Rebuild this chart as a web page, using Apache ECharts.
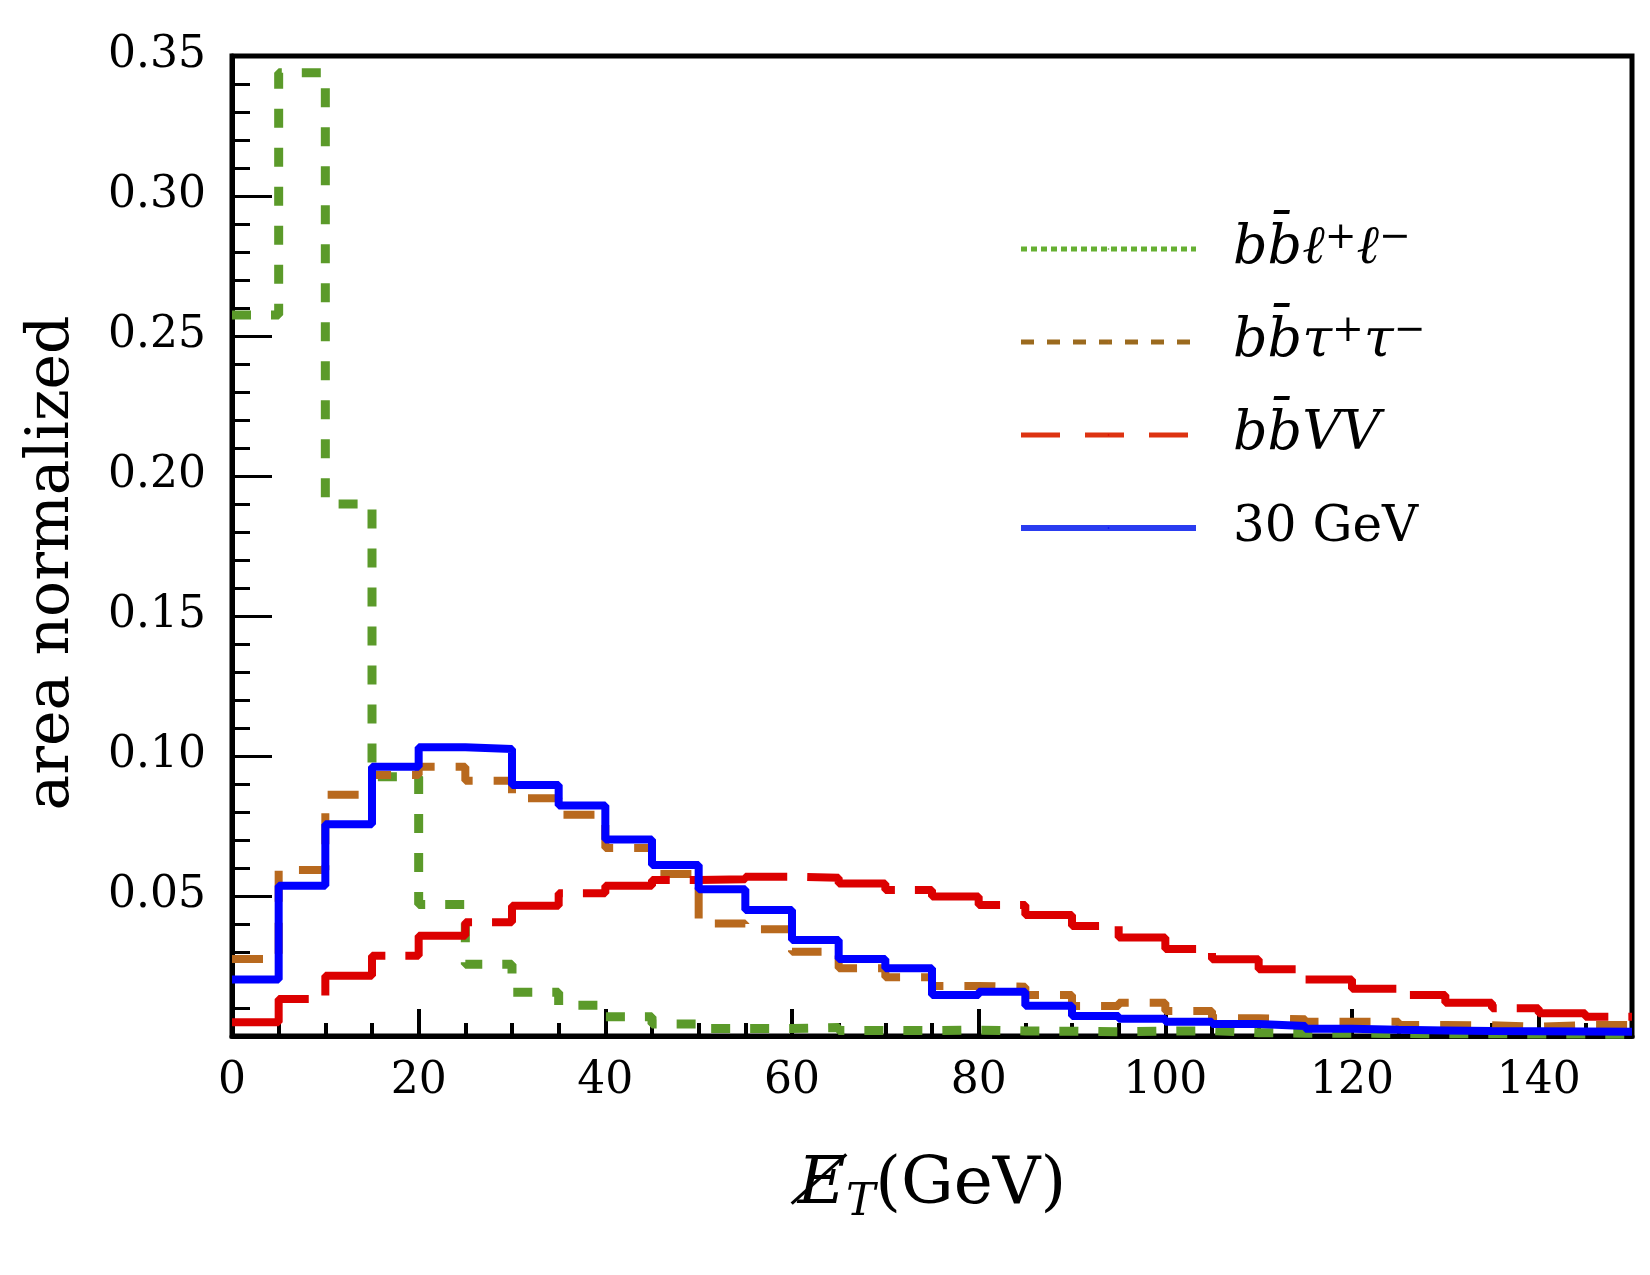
<!DOCTYPE html>
<html>
<head>
<meta charset="utf-8">
<script src="https://cdn.jsdelivr.net/npm/echarts@6/dist/echarts.min.js"></script>
<style>
  html, body { margin: 0; padding: 0; background: #fff; }
  #chart { width: 1650px; height: 1275px; }
</style>
</head>
<body>
<div id="chart"></div>
<script>
// bins of missing E_T (GeV), 5 GeV wide
var binStarts = [0, 5, 10, 15, 20, 25, 30, 35, 40, 45, 50, 55, 60, 65, 70, 75, 80, 85, 90, 95,
                 100, 105, 110, 115, 120, 125, 130, 135, 140, 145];
var xMax = 150;

var seriesNames = ['bb\u0304\u2113\u207a\u2113\u207b', 'bb\u0304\u03c4\u207a\u03c4\u207b', 'bb\u0304VV', '30 GeV'];

var bbll = [0.2575, 0.344, 0.190, 0.0926, 0.047, 0.0256, 0.0156, 0.011, 0.0069, 0.0043,
            0.0027, 0.0027, 0.003, 0.002, 0.0019, 0.0021, 0.0018, 0.0017, 0.0015, 0.0017,
            0.0019, 0.0012, 0.001, 0.001, 0.0009, 0.0008, 0.0008, 0.0007, 0.0007, 0.0006];
var bbtautau = [0.0275, 0.0593, 0.0862, 0.0932, 0.0962, 0.0912, 0.0849, 0.079, 0.0671, 0.0579,
                0.0402, 0.0381, 0.0301, 0.0242, 0.021, 0.0179, 0.0176, 0.0146, 0.0107, 0.0119,
                0.0089, 0.0063, 0.006, 0.0051, 0.0051, 0.0039, 0.0038, 0.0033, 0.0039, 0.0039];
var bbVV = [0.0049, 0.0132, 0.0215, 0.0287, 0.0358, 0.0406, 0.0465, 0.051, 0.0537, 0.0557,
            0.056, 0.0569, 0.0565, 0.0545, 0.0521, 0.0498, 0.0468, 0.0432, 0.0393, 0.0352,
            0.0311, 0.0274, 0.0238, 0.0202, 0.0169, 0.0146, 0.0119, 0.0099, 0.0081, 0.0069];
var signal30 = [0.0202, 0.0537, 0.0756, 0.0962, 0.1031, 0.1025, 0.0896, 0.0823, 0.0702, 0.0611,
                0.0524, 0.045, 0.0343, 0.0275, 0.0242, 0.0146, 0.0158, 0.0108, 0.0071, 0.0062,
                0.0051, 0.0043, 0.0036, 0.0026, 0.0022, 0.002, 0.0018, 0.0017, 0.0016, 0.0015];

var yTickLabels = ['0.05', '0.10', '0.15', '0.20', '0.25', '0.30', '0.35'];

// histogram outline: one point per bin start, plus the closing edge
function steps(vals) {
  var d = vals.map(function (v, i) { return [binStarts[i], v]; });
  d.push([xMax, vals[vals.length - 1]]);
  return d;
}

var serif = 'DejaVu Serif';
var legendText = {};
legendText[seriesNames[0]] = '{i|bb\u0304\u2113}{sup|+}{i|\u2113}{sup|\u2212}';
legendText[seriesNames[1]] = '{i|bb\u0304\u03c4}{sup|+}{i|\u03c4}{sup|\u2212}';
legendText[seriesNames[2]] = '{i|bb\u0304VV}';
legendText[seriesNames[3]] = '{n|30 GeV}';

var myChart = echarts.init(document.getElementById('chart'), null, { renderer: 'canvas' });

var option = {
  animation: false,
  backgroundColor: '#fff',
  grid: {
    left: 232, right: 18, top: 56, bottom: 239,
    show: true, borderColor: '#000', borderWidth: 5, backgroundColor: 'transparent'
  },
  legend: {
    orient: 'vertical',
    left: 1013,
    top: 214,
    itemWidth: 175,
    itemHeight: 2,   // keeps the legend's marker dot hidden under the line
    itemGap: 33,
    formatter: function (name) { return legendText[name]; },
    textStyle: {
      color: '#000',
      fontFamily: serif,
      fontSize: 52,
      lineHeight: 60,
      padding: [0, 0, 0, 32],
      rich: {
        i: { fontFamily: serif, fontStyle: 'italic', fontSize: 54, lineHeight: 60, color: '#000' },
        n: { fontFamily: serif, fontSize: 50, lineHeight: 60, color: '#000' },
        sup: { fontFamily: serif, fontSize: 38, lineHeight: 34, verticalAlign: 'top', color: '#000' }
      }
    },
    data: [
      { name: seriesNames[0], lineStyle: { color: '#66b032', width: 5, type: [6, 4] } },
      { name: seriesNames[1], lineStyle: { color: '#9b6a1e', width: 5, type: [13, 13] } },
      { name: seriesNames[2], lineStyle: { color: '#dd3311', width: 5, type: [39, 25] } },
      { name: seriesNames[3], lineStyle: { color: '#2a3cf0', width: 6, type: 'solid' } }
    ]
  },
  xAxis: [
    {
      type: 'value',
      min: 0,
      max: xMax,
      interval: 20,
      axisLine: { show: true, lineStyle: { color: '#000', width: 5 } },
      axisTick: { show: true, inside: true, length: 27, lineStyle: { color: '#000', width: 4 } },
      axisLabel: { showMaxLabel: false, color: '#000', fontFamily: serif, fontSize: 44, margin: 24 },
      splitLine: { show: false },
      name: '{it|E\u0338}{sub|T}{n|(GeV)}',
      nameLocation: 'middle',
      nameGap: 110,
      nameTextStyle: {
        rich: {
          it: { fontFamily: serif, fontStyle: 'italic', fontSize: 66, lineHeight: 80, color: '#000' },
          sub: { fontFamily: serif, fontStyle: 'italic', fontSize: 44, lineHeight: 60, verticalAlign: 'bottom', color: '#000' },
          n: { fontFamily: serif, fontSize: 66, lineHeight: 80, color: '#000' }
        }
      }
    },
    {
      type: 'value',
      min: 0,
      max: xMax,
      interval: 5,
      position: 'bottom',
      axisLine: { show: false },
      axisTick: { show: true, inside: true, length: 13, lineStyle: { color: '#000', width: 4 } },
      axisLabel: { show: false },
      splitLine: { show: false }
    }
  ],
  yAxis: {
    type: 'value',
    min: 0,
    max: 0.35,
    interval: 0.05,
    axisLine: { show: true, lineStyle: { color: '#000', width: 5 } },
    axisTick: { show: true, inside: true, length: 40, lineStyle: { color: '#000', width: 3 } },
    minorTick: { show: true, splitNumber: 5, length: 18, lineStyle: { color: '#000', width: 3 } },
    axisLabel: {
      showMinLabel: false,
      color: '#000', fontFamily: serif, fontSize: 44, margin: 26,
      formatter: function (v) {
        var k = Math.round(v / 0.05) - 1;
        return k >= 0 ? yTickLabels[k] : '';
      }
    },
    splitLine: { show: false },
    name: 'area normalized',
    nameLocation: 'middle',
    nameGap: 150,
    nameTextStyle: { color: '#000', fontFamily: serif, fontSize: 60, padding: [0, 34, 0, 0] }
  },
  series: [
    {
      name: seriesNames[0], type: 'line', step: 'end', symbol: 'none', z: 2,
      data: steps(bbll),
      lineStyle: { color: '#5b9a2a', width: 9, type: [19, 20], cap: 'butt' },
      itemStyle: { color: '#5b9a2a' }
    },
    {
      name: seriesNames[1], type: 'line', step: 'end', symbol: 'none', z: 3,
      data: steps(bbtautau),
      lineStyle: { color: '#b8691e', width: 8, type: [31, 21], cap: 'butt' },
      itemStyle: { color: '#b8691e' }
    },
    {
      name: seriesNames[2], type: 'line', step: 'end', symbol: 'none', z: 4,
      data: steps(bbVV),
      lineStyle: { color: '#dc0000', width: 8, type: [100, 20], cap: 'butt' },
      itemStyle: { color: '#dc0000' }
    },
    {
      name: seriesNames[3], type: 'line', step: 'end', symbol: 'none', z: 5,
      data: steps(signal30),
      lineStyle: { color: '#0000ff', width: 8, type: 'solid' },
      itemStyle: { color: '#0000ff' }
    }
  ]
};

myChart.setOption(option);
</script>
</body>
</html>
